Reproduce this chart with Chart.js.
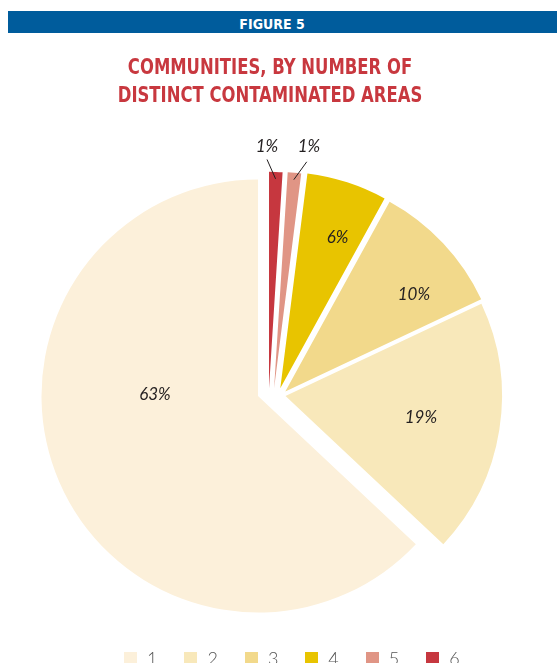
<!DOCTYPE html>
<html>
<head>
<meta charset="utf-8">
<script src="https://cdn.jsdelivr.net/npm/chart.js@4.4.1/dist/chart.umd.min.js"></script>
<style>
  html, body { margin: 0; padding: 0; background: #fff; overflow: hidden; }
  body { width: 557px; height: 663px; position: relative; }
  #bar {
    position: absolute; left: 8px; right: 0; top: 11px; height: 22px;
    background: #005c9c; color: #fff; text-align: center; padding-right: 21px;
    font: bold 14px "DejaVu Sans Condensed", sans-serif;
    font-stretch: condensed; line-height: 26px; overflow: hidden;
  }
  #title {
    position: absolute; left: 0; width: 540px; top: 53px; text-align: center;
    color: #c8383f; font: bold 21px/28px "DejaVu Sans Condensed", sans-serif;
    font-stretch: condensed; transform: scaleX(0.87);
  }
  #chart_5 { position: absolute; left: 0; top: 0; }
  #legend {
    position: absolute; left: 124px; top: 649px; display: flex; gap: 27px;
    font: 300 18px/18px Lato, sans-serif; color: #555;
  }
  #legend .item { display: flex; align-items: flex-start; }
  #legend .box { width: 13px; height: 13px; margin: 3px 10px 0 0; }
</style>
</head>
<body>
<canvas id="chart_5" width="557" height="663"></canvas>
<div id="bar">FIGURE 5</div>
<div id="title">COMMUNITIES, BY NUMBER OF<br>DISTINCT CONTAMINATED AREAS</div>
<div id="legend"></div>
<script>
// number of distinct contaminated areas per community, share in percent
var categories = ["1", "2", "3", "4", "5", "6"];
var shares = [63, 19, 10, 6, 1, 1];
var colors = ["#fcf0da", "#f8e8ba", "#f2d98b", "#e8c400", "#e09585", "#c6373f"];

// per-slice explode (px) and label placement, same order as categories
var explode = [[-13, 5], [14.5, 5], [14.3, 0.5], [9.3, -2.8], [3.1, -2.7], [-2, -2.7]];
var labelDist = [0.476, 0.633, 0.743, 0.745, 1.129, 1.118];
var labelTurn = [24.5, 0, 6.3, 2.8, 2.8, -2.3];

// slices run counter-clockwise from 12 o'clock, so feed them reversed
function rev(a) { return a.slice().reverse(); }

var explodePlugin = {
    id: 'explode',
    afterDatasetUpdate: function (chart, args) {
        var shift = rev(explode);
        args.meta.data.forEach(function (arc, i) {
            arc.x += shift[i][0];
            arc.y += shift[i][1];
        });
    }
};

var sliceLabels = {
    id: 'sliceLabels',
    afterDatasetsDraw: function (chart) {
        var ctx = chart.ctx;
        var arcs = chart.getDatasetMeta(0).data;
        var values = chart.data.datasets[0].data;
        var dist = rev(labelDist), turn = rev(labelTurn);
        ctx.save();
        ctx.font = "italic 17px Lato";
        ctx.fillStyle = "#231f20";
        ctx.strokeStyle = "#231f20";
        ctx.lineWidth = 1;
        ctx.textAlign = "center";
        ctx.textBaseline = "middle";
        arcs.forEach(function (arc, i) {
            var mid = (arc.startAngle + arc.endAngle) / 2;
            var r = arc.outerRadius;
            var a = mid + turn[i] * Math.PI / 180;
            if (dist[i] > 1) {
                // leader line for the thin slices labelled outside
                ctx.beginPath();
                ctx.moveTo(arc.x + Math.cos(a) * r * 1.057, arc.y + Math.sin(a) * r * 1.057);
                ctx.lineTo(arc.x + Math.cos(mid) * r * 0.968, arc.y + Math.sin(mid) * r * 0.968);
                ctx.stroke();
            }
            ctx.fillText(values[i] + "%", arc.x + Math.cos(a) * r * dist[i], arc.y + Math.sin(a) * r * dist[i]);
        });
        ctx.restore();
    }
};

var ctx5 = document.getElementById("chart_5").getContext("2d");
var pieChart = new Chart(ctx5, {
    type: 'pie',
    data: {
        labels: rev(categories),
        datasets: [{
            data: rev(shares),
            backgroundColor: rev(colors),
            borderWidth: 0
        }]
    },
    options: {
        responsive: false,
        animation: false,
        events: [],
        radius: 216.5,
        layout: {
            padding: { left: 0, right: 15, top: 119, bottom: 0 }
        },
        plugins: {
            legend: { display: false },
            tooltip: { enabled: false }
        }
    },
    plugins: [explodePlugin, sliceLabels]
});

// legend row under the pie
var legend = document.getElementById("legend");
categories.forEach(function (c, i) {
    var item = document.createElement("div");
    item.className = "item";
    item.innerHTML = '<span class="box" style="background:' + colors[i] + '"></span><span>' + c + '</span>';
    legend.appendChild(item);
});
</script>
</body>
</html>
